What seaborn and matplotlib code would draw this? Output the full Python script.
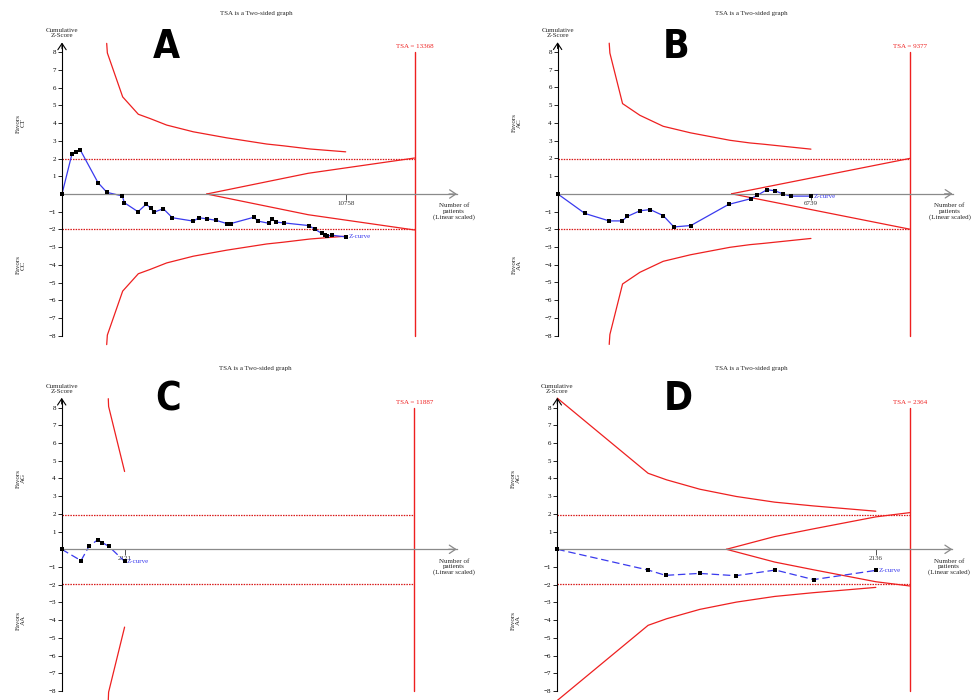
import matplotlib
matplotlib.use("Agg")
import matplotlib.pyplot as plt
import seaborn as sns
from matplotlib import font_manager

# ---------------- data ----------------
# Panel A (CT vs CC)
a_n = [0, 379, 531, 695, 1365, 1706, 2288, 2364, 2882, 3198, 3362, 3501, 3842, 4185, 4981,
       5195, 5486, 5828, 6257, 6396, 7281, 7432, 7837, 7975, 8127, 8406, 9354, 9594, 9847,
       9973, 10061, 10250, 10758]
a_z = [0, 2.27, 2.35, 2.48, 0.64, 0.09, -0.11, -0.49, -1.00, -0.57, -0.81, -1.02, -0.83, -1.34,
       -1.53, -1.34, -1.40, -1.48, -1.67, -1.67, -1.31, -1.53, -1.65, -1.42, -1.59, -1.63,
       -1.78, -1.99, -2.22, -2.33, -2.37, -2.33, -2.42]
a_bnd_n = [1695, 1720, 2301, 2894, 3337, 3970, 4980, 6245, 7762, 8393, 9404, 10758]
a_bnd_up = [8.5, 7.96, 5.48, 4.50, 4.26, 3.89, 3.51, 3.17, 2.82, 2.72, 2.54, 2.38]
a_bnd_lo = [-8.5, -7.96, -5.48, -4.50, -4.26, -3.89, -3.51, -3.17, -2.82, -2.72, -2.54, -2.38]
a_fut_n = [5487, 9340, 13368]
a_fut_up = [0, 1.17, 2.03]
a_fut_lo = [0, -1.17, -2.03]
a_tsa = 13368

# Panel B (AC vs AA)
b_n = [0, 726, 1373, 1719, 1852, 2189, 2464, 2809, 3094, 3546, 4548, 5134, 5310, 5567, 5789,
       6002, 6197, 6739]
b_z = [0, -1.11, -1.53, -1.53, -1.28, -0.96, -0.89, -1.23, -1.87, -1.79, -0.60, -0.28, -0.09,
       0.23, 0.17, -0.02, -0.13, -0.13]
b_bnd_n = [1373, 1391, 1728, 2189, 2809, 3537, 4583, 5115, 5470, 6739]
b_bnd_up = [8.5, 7.94, 5.09, 4.43, 3.81, 3.44, 3.02, 2.87, 2.80, 2.52]
b_bnd_lo = [-8.5, -7.94, -5.09, -4.43, -3.81, -3.44, -3.02, -2.87, -2.80, -2.52]
b_fut_n = [4628, 9377]
b_fut_up = [0, 2.0]
b_fut_lo = [0, -2.0]
b_tsa = 9377

# Panel C (AG vs AA)
c_n = [0, 651, 921, 1225, 1369, 1584, 2121]
c_z = [0, -0.64, 0.17, 0.55, 0.38, 0.17, -0.68]
c_bnd_n = [1571, 1582, 2121]
c_bnd_up = [8.5, 8.06, 4.39]
c_bnd_lo = [-8.5, -8.06, -4.39]
c_fut_n = []
c_fut_up = []
c_fut_lo = []
c_tsa = 11887

# Panel D (AG vs AA)
d_n = [0, 609, 726, 954, 1197, 1463, 1719, 2136]
d_z = [0, -1.17, -1.47, -1.36, -1.49, -1.17, -1.71, -1.19]
d_bnd_n = [0, 609, 733, 956, 1201, 1458, 1715, 2136]
d_bnd_up = [8.53, 4.29, 3.92, 3.39, 2.98, 2.66, 2.45, 2.15]
d_bnd_lo = [-8.53, -4.29, -3.92, -3.39, -2.98, -2.66, -2.45, -2.15]
d_fut_n = [1134, 1458, 1715, 2136, 2364]
d_fut_up = [0, 0.72, 1.15, 1.83, 2.07]
d_fut_lo = [0, -0.72, -1.15, -1.83, -2.07]
d_tsa = 2364

letters = ["A", "B", "C", "D"]
favor_top = ["CT", "AC", "AG", "AG"]
favor_bottom = ["CC", "AA", "AA", "AA"]
y_ticks = [-8, -7, -6, -5, -4, -3, -2, -1, 1, 2, 3, 4, 5, 6, 7, 8]
sig_level = 1.96

# ---------------- style ----------------
sns.set_theme(style="white")
plt.rcParams["font.family"] = ["Liberation Serif", "DejaVu Serif"]
plt.rcParams["axes.unicode_minus"] = True

names = {f.name for f in font_manager.fontManager.ttflist}
if "Liberation Sans Narrow" in names:
    LETTER_FONT = ["Liberation Sans Narrow"]
else:
    LETTER_FONT = ["DejaVu Sans"]

RED = "#ee2020"
DOTRED = "#d81818"
BLUE = "#3a3aee"
GRAY = "#8a8a8a"
FS = 5.0
W, H = 973, 700

fig = plt.figure(figsize=(9.73, 7.0), dpi=100)

PX_TSA = 352.5     # pixel distance origin -> TSA line
PX_ARROW = 395.0   # pixel distance origin -> x-axis arrow tip
SY = 17.72         # pixels per z unit

panels = [
    dict(quad=(0, 0, 486, 350), origin=(62.0, 194.0), n=a_n, z=a_z, bn=a_bnd_n, bu=a_bnd_up,
         bl=a_bnd_lo, fn=a_fut_n, fu=a_fut_up, fl=a_fut_lo, tsa=a_tsa, dashed=False, lx=104),
    dict(quad=(486, 0, 973, 350), origin=(557.6, 193.8), n=b_n, z=b_z, bn=b_bnd_n, bu=b_bnd_up,
         bl=b_bnd_lo, fn=b_fut_n, fu=b_fut_up, fl=b_fut_lo, tsa=b_tsa, dashed=False, lx=119),
    dict(quad=(0, 350, 486, 700), origin=(61.7, 549.3), n=c_n, z=c_z, bn=c_bnd_n, bu=c_bnd_up,
         bl=c_bnd_lo, fn=c_fut_n, fu=c_fut_up, fl=c_fut_lo, tsa=c_tsa, dashed=True, lx=106),
    dict(quad=(486, 350, 973, 700), origin=(557.3, 549.3), n=d_n, z=d_z, bn=d_bnd_n, bu=d_bnd_up,
         bl=d_bnd_lo, fn=d_fut_n, fu=d_fut_up, fl=d_fut_lo, tsa=d_tsa, dashed=True, lx=121),
]

for i, p in enumerate(panels):
    qx0, qy0, qx1, qy1 = p["quad"]
    ox, oy = p["origin"]
    sx = p["tsa"] / PX_TSA  # patients per pixel
    ax = fig.add_axes([qx0 / W, 1 - qy1 / H, (qx1 - qx0) / W, (qy1 - qy0) / H])
    ax.patch.set_alpha(0)
    ax.set_xlim((qx0 - ox) * sx, (qx1 - ox) * sx)
    ax.set_ylim((oy - qy1) / SY, (oy - qy0) / SY)
    ax.grid(False)

    for s in ["top", "right"]:
        ax.spines[s].set_visible(False)
    ax.spines["left"].set_position(("data", 0))
    ax.spines["left"].set_bounds(-8, 8.45)
    ax.spines["left"].set_color("black")
    ax.spines["left"].set_linewidth(0.8)
    ax.spines["bottom"].set_position(("data", 0))
    ax.spines["bottom"].set_bounds(0, PX_ARROW * sx)
    ax.spines["bottom"].set_color(GRAY)
    ax.spines["bottom"].set_linewidth(0.9)
    ax.set_yticks(y_ticks)
    ax.set_yticklabels([f"{t}".replace("-", "\u2212") for t in y_ticks])
    last_n = p["n"][-1]
    ax.set_xticks([last_n])
    ax.set_xticklabels([str(last_n)])
    ax.tick_params(axis="y", direction="out", length=3, width=0.6, labelsize=FS, pad=1.2,
                   colors="black", left=True)
    ax.tick_params(axis="x", direction="out", length=4, width=0.6, labelsize=FS, pad=1.0,
                   colors="#333333", bottom=True)

    # arrow heads
    ax.annotate("", xy=(0, 8.55), xytext=(0, 8.2),
                arrowprops=dict(arrowstyle="->,head_length=0.45,head_width=0.3", lw=0.8,
                                color="black", mutation_scale=10, shrinkA=0, shrinkB=0))
    ax.annotate("", xy=(PX_ARROW * sx, 0), xytext=((PX_ARROW - 8) * sx, 0),
                arrowprops=dict(arrowstyle="->,head_length=0.45,head_width=0.3", lw=0.9,
                                color=GRAY, mutation_scale=10, shrinkA=0, shrinkB=0))

    # conventional significance lines (dotted)
    for lvl in (sig_level, -sig_level):
        ax.plot([0, p["tsa"]], [lvl, lvl], color=DOTRED, lw=0.9, ls=(0, (1.2, 0.9)))

    # TSA line
    ax.plot([p["tsa"], p["tsa"]], [-8, 8], color=RED, lw=1.0)
    ax.text(p["tsa"], 8.3, f"TSA = {p['tsa']}", color=RED, fontsize=FS, ha="center", va="center")

    # monitoring boundaries
    sns.lineplot(x=p["bn"], y=p["bu"], sort=False, estimator=None, color=RED, lw=0.9, ax=ax)
    sns.lineplot(x=p["bn"], y=p["bl"], sort=False, estimator=None, color=RED, lw=0.9, ax=ax)
    if p["fn"]:
        sns.lineplot(x=p["fn"], y=p["fu"], sort=False, estimator=None, color=RED, lw=0.9, ax=ax)
        sns.lineplot(x=p["fn"], y=p["fl"], sort=False, estimator=None, color=RED, lw=0.9, ax=ax)

    # Z-curve
    ls = (0, (6, 3)) if p["dashed"] else "-"
    sns.lineplot(x=p["n"], y=p["z"], sort=False, estimator=None, color=BLUE, lw=0.9,
                 linestyle=ls, ax=ax)
    sns.scatterplot(x=p["n"], y=p["z"], marker="s", color="black", s=10, linewidth=0,
                    ax=ax, zorder=5)
    ax.text(last_n + 2.5 * sx, p["z"][-1], "Z-curve", color=BLUE, fontsize=FS,
            ha="left", va="center")

    # texts
    ax.text(0, 9.07, "Cumulative\nZ-Score", fontsize=FS, ha="center", va="center",
            linespacing=1.0)
    ax.text(-41 * sx, 4.0, f"Favors\n{favor_top[i]}", fontsize=FS, rotation=90,
            ha="center", va="center", linespacing=1.0)
    ax.text(-41 * sx, -4.0, f"Favors\n{favor_bottom[i]}", fontsize=FS, rotation=90,
            ha="center", va="center", linespacing=1.0)
    ax.text((PX_ARROW - 3) * sx, -1.0, "Number of\npatients\n(Linear scaled)", fontsize=FS,
            ha="center", va="center", linespacing=1.1)
    ax.text(194 * sx, 10.2, "TSA is a Two-sided graph", fontsize=FS, ha="center", va="center")
    ly = 8.31 if i < 2 else 8.46
    ax.text(p["lx"] * sx, ly, letters[i], fontsize=28, family=LETTER_FONT,
            fontstretch="condensed", fontweight="bold", ha="center", va="center",
            color="black")

fig.savefig("out.png", dpi=100)
